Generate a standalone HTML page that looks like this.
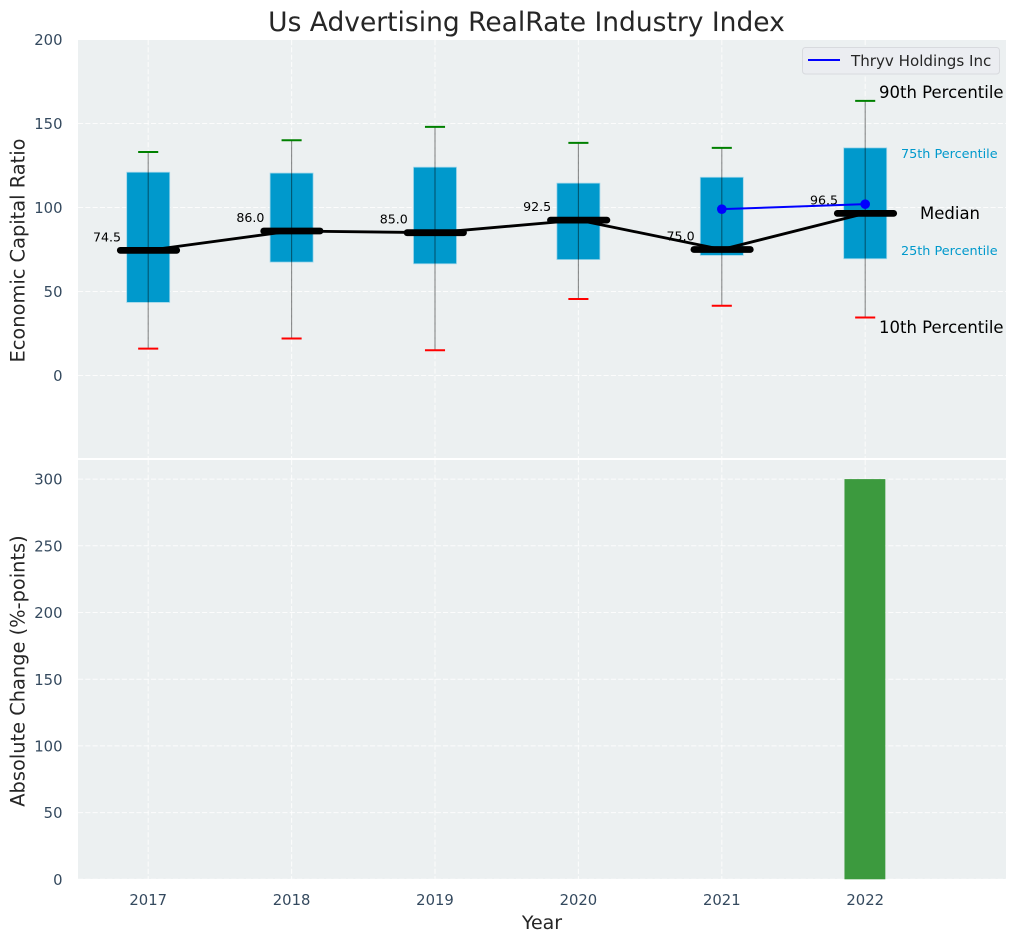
<!DOCTYPE html>
<html lang="en">
<head>
<meta charset="utf-8">
<title>Us Advertising RealRate Industry Index</title>
<style>
html,body{margin:0;padding:0;background:#fff;width:1016px;height:942px;overflow:hidden}
svg{display:block;font-family:"DejaVu Sans","Liberation Sans",sans-serif}
</style>
</head>
<body>
<svg id="chart" xmlns="http://www.w3.org/2000/svg" width="1016" height="942" viewBox="0 0 1016 942">
  <rect x="78" y="40" width="928" height="418" fill="#ecf0f1"/>
  <rect x="78" y="460" width="928" height="419" fill="#ecf0f1"/>
  <g id="grid"></g>
  <g id="ticks" fill="#34495e" font-size="14.8"></g>
  <g id="boxes"></g>
  <g id="medians"></g>
  <g id="thryv"></g>
  <g id="bars"></g>
  <text x="526.5" y="31" text-anchor="middle" font-size="26.5" fill="#262626">Us Advertising RealRate Industry Index</text>
  <text transform="translate(24.5,250.5) rotate(-90)" text-anchor="middle" font-size="19.4" fill="#262626">Economic Capital Ratio</text>
  <text transform="translate(24.5,671) rotate(-90)" text-anchor="middle" font-size="19.4" fill="#262626">Absolute Change (%-points)</text>
  <text x="542" y="929" text-anchor="middle" font-size="19" fill="#262626">Year</text>
  <g>
    <text x="879" y="98" font-size="16.5" fill="#000">90th Percentile</text>
    <text x="901" y="158" font-size="12.8" fill="#0099cc">75th Percentile</text>
    <text x="920" y="219" font-size="16.5" fill="#000">Median</text>
    <text x="901" y="255" font-size="12.8" fill="#0099cc">25th Percentile</text>
    <text x="879" y="333" font-size="16.5" fill="#000">10th Percentile</text>
  </g>
  <g>
    <rect x="802.5" y="47.5" width="197" height="26.5" rx="3" fill="#ebedf1" stroke="#d8dade" stroke-width="1"/>
    <line x1="808" y1="60" x2="840" y2="60" stroke="#0000ff" stroke-width="2"/>
    <text x="851" y="66" font-size="15.1" fill="#262626">Thryv Holdings Inc</text>
  </g>
</svg>
<script>
const years = [2017, 2018, 2019, 2020, 2021, 2022];
const p90 = [133, 140, 148, 138.5, 135.5, 163.5];
const p75 = [121, 120.5, 124, 114.5, 118, 135.5];
const medianValues = [74.5, 86.0, 85.0, 92.5, 75.0, 96.5];
const p25 = [43.5, 67.5, 66.5, 69, 71.5, 69.5];
const p10 = [16, 22, 15, 45.5, 41.5, 34.5];
const thryvYears = [2021, 2022];
const thryvValues = [99, 102];
const changeYears = [2022];
const changeValues = [300];
const topTicks = [0, 50, 100, 150, 200];
const bottomTicks = [0, 50, 100, 150, 200, 250, 300];

const NS = 'http://www.w3.org/2000/svg';
const xScale = v => 148.2 + (v - 2017) * 143.4;
const yTop = v => 375.5 - v * 1.68;
const yBottom = v => 879.3 - v * 1.334;
const unit = 143.4;
const boxWidth = 0.3 * unit;
const capWidth = 0.14 * unit;
const medianWidth = 0.4 * unit;
const barWidth = 0.285 * unit;

function mk(tag, attrs, parent) {
  const el = document.createElementNS(NS, tag);
  for (const k in attrs) el.setAttribute(k, attrs[k]);
  document.getElementById(parent).appendChild(el);
  return el;
}
function gridLine(x1, y1, x2, y2) {
  const el = mk('line', {x1, y1, x2, y2, stroke: '#ffffff', 'stroke-width': 1, 'stroke-dasharray': '5.1 2.2', opacity: 0.85}, 'grid');
  
  
}

topTicks.forEach(t => {
  gridLine(78, yTop(t), 1006, yTop(t));
  const el = mk('text', {x: 62.5, y: yTop(t) + 5.6, 'text-anchor': 'end'}, 'ticks');
  el.textContent = t;
  
  
});
bottomTicks.forEach(t => {
  gridLine(78, yBottom(t), 1006, yBottom(t));
  const el = mk('text', {x: 62.5, y: yBottom(t) + 5.6, 'text-anchor': 'end'}, 'ticks');
  el.textContent = t;
  
  
});
years.forEach(y => {
  const x = xScale(y);
  gridLine(x, 40, x, 458);
  gridLine(x, 460, x, 879);
  const el = mk('text', {x, y: 905, 'text-anchor': 'middle'}, 'ticks');
  el.textContent = y;
  
  
});

years.forEach((y, i) => {
  const x = xScale(y);
  const box = mk('rect', {
    x: x - boxWidth / 2, y: yTop(p75[i]), width: boxWidth, height: yTop(p25[i]) - yTop(p75[i]),
    fill: '#0099cc', stroke: '#9fd6ea', 'stroke-width': 0.8
  }, 'boxes');
  
  

  const whisker = mk('line', {x1: x, y1: yTop(p90[i]), x2: x, y2: yTop(p10[i]), stroke: '#000000', 'stroke-opacity': 0.45, 'stroke-width': 1.1}, 'boxes');
  
  

  const capHigh = mk('line', {x1: x - capWidth / 2, y1: yTop(p90[i]), x2: x + capWidth / 2, y2: yTop(p90[i]), stroke: '#008000', 'stroke-width': 2}, 'boxes');
  
  

  const capLow = mk('line', {x1: x - capWidth / 2, y1: yTop(p10[i]), x2: x + capWidth / 2, y2: yTop(p10[i]), stroke: '#ff0000', 'stroke-width': 2}, 'boxes');
  
  
});

const medianPath = mk('polyline', {
  points: years.map((y, i) => xScale(y) + ',' + yTop(medianValues[i])).join(' '),
  fill: 'none', stroke: '#000000', 'stroke-width': 2.8, 'stroke-linejoin': 'round'
}, 'medians');



years.forEach((y, i) => {
  const x = xScale(y);
  const my = yTop(medianValues[i]);
  const bar = mk('line', {x1: x - medianWidth / 2 + 0.8, y1: my, x2: x + medianWidth / 2 - 0.2, y2: my, stroke: '#000000', 'stroke-width': 6.8, 'stroke-linecap': 'round'}, 'medians');
  
  

  const label = mk('text', {x: x - 27.2, y: my - 9, 'text-anchor': 'end', 'font-size': 12.6, fill: '#000000'}, 'medians');
  label.textContent = medianValues[i].toFixed(1);
  
  
});

const thryvLine = mk('polyline', {
  points: thryvYears.map((y, i) => xScale(y) + ',' + yTop(thryvValues[i])).join(' '),
  fill: 'none', stroke: '#0000ff', 'stroke-width': 2
}, 'thryv');



thryvYears.forEach((y, i) => {
  const pt = mk('circle', {cx: xScale(y), cy: yTop(thryvValues[i]), r: 4.8, fill: '#0000ff'}, 'thryv');
  
  
});

changeYears.forEach((y, i) => {
  const bar = mk('rect', {
    x: xScale(y) - barWidth / 2 - 0.3, y: yBottom(changeValues[i]), width: barWidth,
    height: yBottom(0) - yBottom(changeValues[i]), fill: '#3c9a3e'
  }, 'bars');
  
  
});
</script>
</body>
</html>
